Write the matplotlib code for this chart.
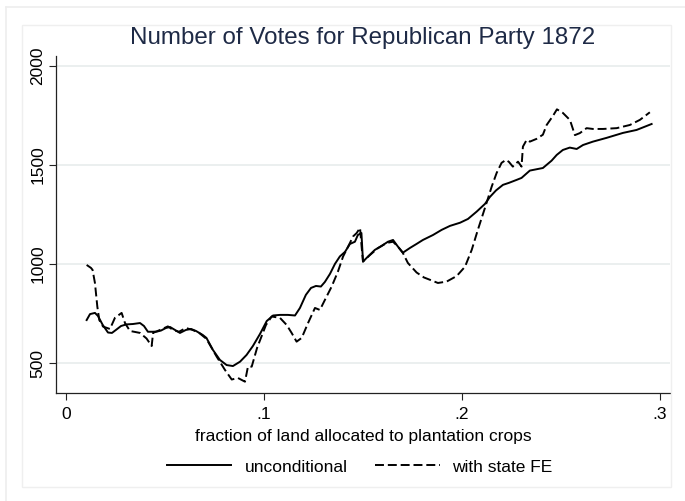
import matplotlib
matplotlib.use("Agg")
import matplotlib.pyplot as plt
from matplotlib.lines import Line2D
from matplotlib.patches import Rectangle

plt.rcParams['font.family'] = ['Liberation Sans', 'DejaVu Sans']

# ---- data ----
uncond_x = [0.0102, 0.0119, 0.0144, 0.0159, 0.0183, 0.0210, 0.0230, 0.0250, 0.0276, 0.0303,
            0.0336, 0.0372, 0.0392, 0.0412, 0.0437, 0.0458, 0.0478, 0.0503, 0.0524, 0.0549,
            0.0574, 0.0604, 0.0630, 0.0655, 0.0689, 0.0708, 0.0741, 0.0776, 0.0810, 0.0842,
            0.0878, 0.0911, 0.0943, 0.0979, 0.1013, 0.1045, 0.1080, 0.1120, 0.1156, 0.1181,
            0.1211, 0.1237, 0.1262, 0.1287, 0.1307, 0.1333, 0.1358, 0.1383, 0.1409, 0.1434,
            0.1459, 0.1474, 0.1492, 0.1500, 0.1525, 0.1560, 0.1594, 0.1626, 0.1652, 0.1677,
            0.1702, 0.1738, 0.1771, 0.1803, 0.1854, 0.1898, 0.1940, 0.1991, 0.2031, 0.2075,
            0.2117, 0.2142, 0.2173, 0.2208, 0.2238, 0.2277, 0.2302, 0.2344, 0.2410, 0.2454,
            0.2480, 0.2511, 0.2546, 0.2581, 0.2613, 0.2663, 0.2732, 0.2815, 0.2884, 0.2960]
uncond_y = [718, 748, 754, 739, 694, 655, 653, 668, 688, 696,
            698, 703, 688, 659, 659, 660, 665, 678, 683, 668,
            653, 668, 673, 663, 643, 628, 567, 517, 491, 486,
            508, 542, 587, 648, 713, 741, 744, 744, 741, 779,
            845, 880, 890, 887, 910, 951, 1001, 1039, 1062, 1102,
            1113, 1147, 1157, 1013, 1038, 1072, 1092, 1113, 1122, 1088,
            1058, 1082, 1102, 1122, 1147, 1173, 1193, 1209, 1228, 1265,
            1304, 1339, 1372, 1400, 1410, 1425, 1435, 1472, 1485, 1522,
            1551, 1576, 1588, 1581, 1601, 1618, 1637, 1662, 1677, 1707]

fe_x = [0.0102, 0.0124, 0.0132, 0.0144, 0.0156, 0.0166, 0.0185, 0.0220, 0.0245, 0.0279,
        0.0296, 0.0321, 0.0372, 0.0405, 0.0431, 0.0438, 0.0473, 0.0513, 0.0539, 0.0569,
        0.0604, 0.0638, 0.0670, 0.0708, 0.0760, 0.0802, 0.0836, 0.0867, 0.0903, 0.0918,
        0.0937, 0.0964, 0.1009, 0.1038, 0.1080, 0.1114, 0.1139, 0.1164, 0.1190, 0.1222,
        0.1257, 0.1282, 0.1307, 0.1341, 0.1373, 0.1399, 0.1434, 0.1449, 0.1468, 0.1485,
        0.1493, 0.1500, 0.1535, 0.1576, 0.1620, 0.1652, 0.1677, 0.1702, 0.1727, 0.1771,
        0.1808, 0.1849, 0.1879, 0.1923, 0.1974, 0.2016, 0.2050, 0.2081, 0.2117, 0.2151,
        0.2176, 0.2201, 0.2223, 0.2238, 0.2258, 0.2284, 0.2302, 0.2309, 0.2328, 0.2344,
        0.2378, 0.2410, 0.2429, 0.2461, 0.2481, 0.2511, 0.2547, 0.2572, 0.2597, 0.2631,
        0.2663, 0.2714, 0.2783, 0.2850, 0.2901, 0.2951]
fe_y = [996, 981, 971, 905, 786, 718, 685, 673, 729, 754,
        703, 663, 653, 625, 587, 653, 668, 686, 668, 659,
        678, 668, 654, 623, 533, 466, 418, 426, 407, 483,
        483, 577, 693, 736, 729, 693, 653, 609, 628, 703,
        779, 769, 819, 886, 962, 1038, 1107, 1139, 1157, 1183,
        1088, 1013, 1046, 1081, 1107, 1113, 1088, 1056, 1006, 958,
        933, 917, 905, 912, 940, 987, 1072, 1173, 1284, 1391,
        1460, 1511, 1526, 1516, 1492, 1517, 1492, 1593, 1627, 1618,
        1632, 1653, 1702, 1748, 1781, 1763, 1727, 1651, 1661, 1686,
        1682, 1682, 1686, 1702, 1728, 1766]

x_ticks = [0, 0.1, 0.2, 0.3]
x_tick_labels = ["0", ".1", ".2", ".3"]
y_ticks = [500, 1000, 1500, 2000]
y_tick_labels = ["500", "1000", "1500", "2000"]

title = "Number of Votes for Republican Party 1872"
xlabel = "fraction of land allocated to plantation crops"
series_labels = ["unconditional", "with state FE"]

# ---- figure ----
W, H = 685, 501
fig = plt.figure(figsize=(W / 100, H / 100), dpi=100)
fig.patch.set_facecolor("white")

def fx(px):
    return px / W

def fy(py):
    return 1 - py / H

# faint outer / inner frames
fig.add_artist(Line2D([fx(6), 1], [fy(7), fy(7)], color="#eeeeee", lw=1.2))
fig.add_artist(Line2D([fx(6), fx(6)], [fy(7), 0], color="#eeeeee", lw=1.2))
fig.add_artist(Rectangle((fx(22), fy(487)), fx(671) - fx(22), fy(25) - fy(487),
                         transform=fig.transFigure, fill=False,
                         edgecolor="#efefef", lw=1.0))

ax = fig.add_axes([fx(56), fy(393), fx(670) - fx(56), fy(56) - fy(393)])
ax.set_facecolor("white")
ax.set_xlim(-0.0053, 0.3053)
ax.set_ylim(350, 2050)

for yt in y_ticks:
    ax.axhline(yt, color="#e9eeee", lw=1.3, zorder=0)

l1, = ax.plot(uncond_x, uncond_y, color="black", lw=1.4, solid_joinstyle="round")
l2, = ax.plot(fe_x, fe_y, color="black", lw=1.4, linestyle=(0, (4.6, 2.0)))

for s in ["top", "right"]:
    ax.spines[s].set_visible(False)
for s in ["left", "bottom"]:
    ax.spines[s].set_color("#222222")
    ax.spines[s].set_linewidth(0.9)

ax.set_xticks(x_ticks)
ax.set_xticklabels(x_tick_labels, fontsize=12.5)
ax.set_yticks(y_ticks)
ax.set_yticklabels(y_tick_labels, fontsize=12.5, rotation=90, va="center")
ax.tick_params(axis="both", length=4.8, width=0.8, color="#222222", direction="out")
ax.tick_params(axis="x", pad=5)
ax.tick_params(axis="y", pad=3)

fig.text(fx(363), fy(38), title, ha="center", va="center",
         fontsize=17.4, color="#1e2a46")
fig.text(fx(363), fy(436), xlabel, ha="center", va="center",
         fontsize=12.5, color="black")

leg = fig.legend([l1, l2], series_labels, loc="center",
                 bbox_to_anchor=(fx(360), fy(467)), ncol=2, frameon=False,
                 fontsize=12.5, handlelength=3.7, handletextpad=0.75,
                 columnspacing=1.6)

fig.savefig("out.png", dpi=100, facecolor="white")
